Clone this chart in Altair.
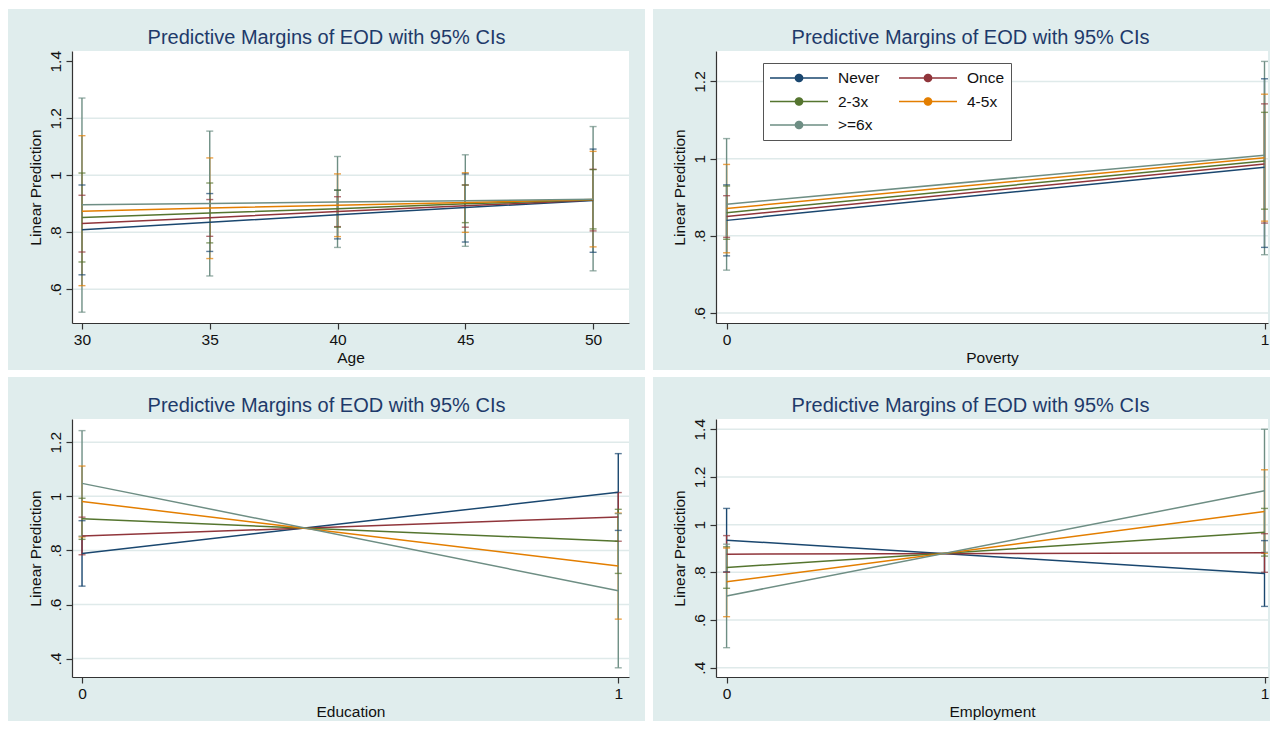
import math
import altair as alt
import pandas as pd

# ---------------- data ----------------
SERIES = ["Never", "Once", "2-3x", "4-5x", ">=6x"]
COLORS = ["#1a476f", "#90353b", "#55752f", "#e37e00", "#6e8e84"]
TITLE = "Predictive Margins of EOD with 95% CIs"
YTITLE = "Linear Prediction"

# Panel 1: Age
AGE = [30, 35, 40, 45, 50]
AGE_M = [
    [0.809, 0.835, 0.862, 0.887, 0.912],
    [0.831, 0.851, 0.873, 0.893, 0.913],
    [0.852, 0.868, 0.883, 0.900, 0.914],
    [0.874, 0.885, 0.895, 0.905, 0.915],
    [0.897, 0.901, 0.906, 0.911, 0.916],
]
AGE_LO = [
    [0.651, 0.733, 0.777, 0.766, 0.730],
    [0.731, 0.786, 0.820, 0.818, 0.805],
    [0.696, 0.763, 0.818, 0.834, 0.812],
    [0.613, 0.708, 0.785, 0.800, 0.749],
    [0.520, 0.647, 0.747, 0.751, 0.665],
]
AGE_HI = [
    [0.966, 0.936, 0.948, 1.005, 1.092],
    [0.930, 0.915, 0.925, 0.966, 1.021],
    [1.008, 0.973, 0.948, 0.966, 1.020],
    [1.139, 1.061, 1.005, 1.009, 1.084],
    [1.271, 1.155, 1.066, 1.072, 1.171],
]

BIN = [0, 1]
# Panel 2: Poverty
POV_M = [[0.840, 0.978], [0.850, 0.986], [0.860, 0.994], [0.871, 1.002], [0.882, 1.009]]
POV_LO = [[0.748, 0.770], [0.796, 0.833], [0.791, 0.869], [0.756, 0.838], [0.711, 0.751]]
POV_HI = [[0.932, 1.207], [0.904, 1.142], [0.929, 1.120], [0.985, 1.167], [1.052, 1.252]]

# Panel 3: Education
EDU_M = [[0.789, 1.015], [0.853, 0.924], [0.917, 0.834], [0.981, 0.742], [1.048, 0.651]]
EDU_LO = [[0.668, 0.874], [0.784, 0.834], [0.841, 0.715], [0.850, 0.546], [0.853, 0.366]]
EDU_HI = [[0.910, 1.158], [0.923, 1.014], [0.993, 0.952], [1.112, 0.938], [1.243, 0.936]]

# Panel 4: Employment
EMP_M = [[0.935, 0.795], [0.876, 0.882], [0.820, 0.968], [0.760, 1.055], [0.701, 1.142]]
EMP_LO = [[0.802, 0.657], [0.800, 0.800], [0.733, 0.868], [0.614, 0.880], [0.484, 0.884]]
EMP_HI = [[1.068, 0.933], [0.954, 0.962], [0.907, 1.068], [0.902, 1.230], [0.918, 1.400]]

Y1_TICKS = [0.6, 0.8, 1.0, 1.2, 1.4]
Y1_GRID = [0.6, 0.8, 1.0, 1.2]
Y2_TICKS = [0.6, 0.8, 1.0, 1.2]
Y2_GRID = [0.6, 0.8, 1.0, 1.2]
Y3_TICKS = [0.4, 0.6, 0.8, 1.0, 1.2]
Y3_GRID = [0.4, 0.6, 0.8, 1.0, 1.2]
Y4_TICKS = [0.4, 0.6, 0.8, 1.0, 1.2, 1.4]
Y4_GRID = [0.4, 0.6, 0.8, 1.0, 1.2, 1.4]

# ---------------- style ----------------
FONT = "Liberation Sans"
BG = "#e0eded"
GRID = "#dfeaea"
AX = "#333333"
TXT = "#111111"
TCOL = "#1e3a6a"
FS = 15.5


def ring(r, n=18):
    pts = []
    for k in range(n):
        a = 2 * math.pi * k / n
        pts.append(f"{r * math.cos(a):.4f},{r * math.sin(a):.4f}")
    return "M" + " L".join(pts) + " Z"


LEG_PATH = "M-1,0 L1,0 " + " ".join(ring(r) for r in [0.125, 0.095, 0.065, 0.035, 0.01])


def panel(x, M, LO, HI, xticks, xdom, ydom, yticks, ygrid, xtitle, W, H, L, R, T, B, legend=False):
    rows = []
    for s, mm, ll, hh in zip(SERIES, M, LO, HI):
        for xi, a, b, c in zip(x, mm, ll, hh):
            rows.append(dict(series=s, x=xi, m=a, lo=b, hi=c))
    df = pd.DataFrame(rows)

    xs = alt.Scale(domain=xdom, nice=False, zero=False)
    ys = alt.Scale(domain=ydom, nice=False, zero=False)
    cs = alt.Scale(domain=SERIES, range=COLORS)

    xaxis = alt.Axis(
        title=xtitle, values=xticks, format="d", grid=False, labelFlush=False,
        labelOverlap=False, tickSize=6, tickColor=AX, tickWidth=1.2, domainColor=AX,
        domainWidth=1.2, labelFont=FONT, labelFontSize=FS, labelColor=TXT, labelPadding=3,
        titleFont=FONT, titleFontSize=FS, titleFontWeight="normal", titleColor=TXT,
        titlePadding=3, zindex=1,
    )
    yaxis = alt.Axis(
        title=YTITLE, values=yticks,
        labelExpr="datum.value < 1 ? slice(format(datum.value, '.1f'), 1) : format(datum.value, '~g')",
        labelAngle=270, labelAlign="center", labelBaseline="bottom", grid=False,
        labelFlush=False, labelOverlap=False, tickSize=6, tickColor=AX, tickWidth=1.2,
        domainColor=AX, domainWidth=1.2, labelFont=FONT, labelFontSize=FS,
        labelColor=TXT, labelPadding=3, titleFont=FONT, titleFontSize=FS,
        titleFontWeight="normal", titleColor=TXT, titlePadding=5, zindex=1,
    )
    if legend:
        leg = alt.Legend(
            title=None, orient="none", legendX=47, legendY=12, columns=2,
            direction="horizontal",
            symbolType=LEG_PATH, symbolSize=3364, symbolStrokeWidth=1.5, symbolOpacity=1,
            labelFont=FONT, labelFontSize=FS, labelColor=TXT, labelOffset=9,
            columnPadding=18, rowPadding=5.5, clipHeight=18, padding=6,
            strokeColor="#555555", fillColor="white",
        )
    else:
        leg = None

    X = alt.X("x:Q", scale=xs, axis=xaxis)
    C = alt.Color("series:N", scale=cs, legend=leg)

    one = alt.Data(values=[{"a": 0}])
    bg = alt.Chart(one).mark_rect(color=BG).encode(
        x=alt.value(-L), x2=alt.value(W + R), y=alt.value(-T), y2=alt.value(H + B)
    )
    white = alt.Chart(one).mark_rect(color="white").encode(
        x=alt.value(0), x2=alt.value(W), y=alt.value(0), y2=alt.value(H)
    )
    grid = alt.Chart(pd.DataFrame({"m": ygrid})).mark_rule(color=GRID, strokeWidth=1.5).encode(
        y=alt.Y("m:Q", scale=ys, axis=yaxis), x=alt.value(0), x2=alt.value(W)
    )
    bars = alt.Chart(df).mark_rule(strokeWidth=1.4).encode(
        x=X, y=alt.Y("lo:Q", scale=ys, axis=yaxis), y2="hi:Q", color=C
    )
    cap_lo = alt.Chart(df).mark_tick(orient="horizontal", size=7, thickness=1.4).encode(
        x=X, y=alt.Y("lo:Q", scale=ys, axis=yaxis), color=C
    )
    cap_hi = alt.Chart(df).mark_tick(orient="horizontal", size=7, thickness=1.4).encode(
        x=X, y=alt.Y("hi:Q", scale=ys, axis=yaxis), color=C
    )
    lines = alt.Chart(df).mark_line(strokeWidth=1.5, opacity=1).encode(
        x=X, y=alt.Y("m:Q", scale=ys, axis=yaxis), color=C, detail="series:N"
    )
    title = alt.Chart(one).mark_text(
        text=TITLE, font=FONT, fontSize=20, color=TCOL, align="center", baseline="alphabetic"
    ).encode(x=alt.value(254.5), y=alt.value(-7))

    return alt.layer(bg, white, grid, bars, cap_lo, cap_hi, lines, title).properties(
        width=W, height=H
    )


# left panels: 637 px wide; right panels: 617 px wide (page fits 1262 px)
p1 = panel(AGE, AGE_M, AGE_LO, AGE_HI, AGE, [29.61, 51.405], [0.482, 1.436], Y1_TICKS, Y1_GRID,
           "Age", 557, 272, 64, 16, 42, 47)
p2 = panel(BIN, POV_M, POV_LO, POV_HI, BIN, [-0.0197, 1.0065], [0.574, 1.279], Y2_TICKS, Y2_GRID,
           "Poverty", 552, 272, 63, 2, 42, 47, legend=True)
p3 = panel(BIN, EDU_M, EDU_LO, EDU_HI, BIN, [-0.0187, 1.020], [0.332, 1.286], Y3_TICKS, Y3_GRID,
           "Education", 557, 258, 64, 16, 42, 44)
p4 = panel(BIN, EMP_M, EMP_LO, EMP_HI, BIN, [-0.0197, 1.0065], [0.361, 1.443], Y4_TICKS, Y4_GRID,
           "Employment", 552, 258, 63, 2, 42, 44)

top = alt.hconcat(p1, p2, spacing=8).resolve_scale(
    color="independent", x="independent", y="independent").resolve_legend(color="independent")
bot = alt.hconcat(p3, p4, spacing=8).resolve_scale(
    color="independent", x="independent", y="independent").resolve_legend(color="independent")

chart = alt.vconcat(top, bot, spacing=7).resolve_scale(
    color="independent", x="independent", y="independent").resolve_legend(
    color="independent").properties(
    padding={"left": 0, "top": 1, "right": 0, "bottom": 0}, background="white"
).configure_view(strokeWidth=0, fill=None)

chart.save("out.html", embed_options={"renderer": "svg", "actions": False})
